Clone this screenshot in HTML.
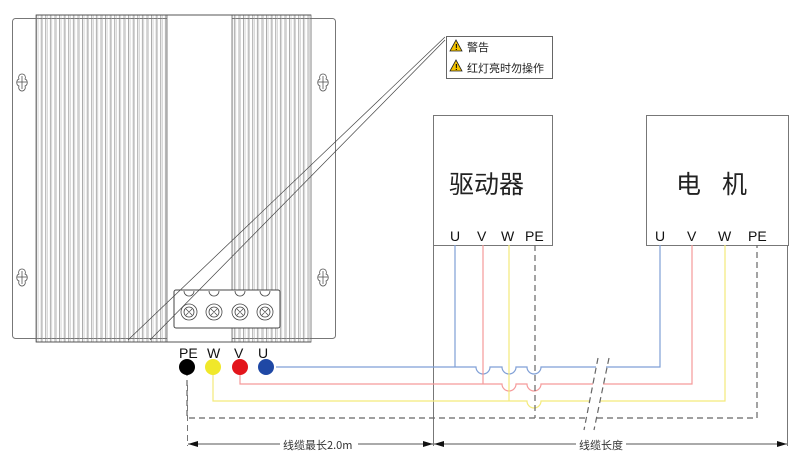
<!DOCTYPE html>
<html><head><meta charset="utf-8"><style>
html,body{margin:0;padding:0;background:#fff;}
svg{display:block;}
text{font-family:"Liberation Sans","Noto Sans CJK SC",sans-serif;}
.cj{font-family:"Noto Sans CJK SC","WenQuanYi Zen Hei",sans-serif;}
</style></head><body>
<svg width="800" height="464" viewBox="0 0 800 464" xmlns="http://www.w3.org/2000/svg">
<defs>
<pattern id="fin" x="36" y="0" width="4.6" height="10" patternUnits="userSpaceOnUse">
<line x1="0.6" y1="0" x2="0.6" y2="10" stroke="#777" stroke-width="0.6"/>
<line x1="2.0" y1="0" x2="2.0" y2="10" stroke="#aaa" stroke-width="0.5"/>
</pattern>
<marker id="ar" viewBox="0 0 10 6" refX="10" refY="3" markerWidth="10" markerHeight="6" orient="auto-start-reverse" markerUnits="userSpaceOnUse"><path d="M0,0 L10,3 L0,6 z" fill="#111"/></marker>
</defs>
<rect x="12.5" y="18.5" width="323" height="320" rx="3" fill="#fff" stroke="#777"/>
<rect x="36" y="15" width="131" height="327" fill="url(#fin)" stroke="#666" stroke-width="0.8"/>
<rect x="232" y="15" width="79" height="327" fill="url(#fin)" stroke="#666" stroke-width="0.8"/>
<rect x="167" y="15" width="65" height="327" fill="#fff" stroke="#666" stroke-width="0.8"/>
<line x1="36" y1="15" x2="311" y2="15" stroke="#555"/>
<line x1="36" y1="342" x2="311" y2="342" stroke="#555"/>
<g fill="none" stroke="#555" stroke-width="0.8">
<path d="M22,74 c-3,0 -4,3 -3,5 c-3,1 -3,6 0,7 c-1,3 1,5 3,5 c2,0 4,-2 3,-5 c3,-1 3,-6 0,-7 c1,-2 0,-5 -3,-5z"/><line x1="17" y1="82" x2="27" y2="82"/><line x1="22" y1="76" x2="22" y2="89"/>
<path d="M22,269 c-3,0 -4,3 -3,5 c-3,1 -3,6 0,7 c-1,3 1,5 3,5 c2,0 4,-2 3,-5 c3,-1 3,-6 0,-7 c1,-2 0,-5 -3,-5z"/><line x1="17" y1="277" x2="27" y2="277"/><line x1="22" y1="271" x2="22" y2="284"/>
<path d="M323,74 c-3,0 -4,3 -3,5 c-3,1 -3,6 0,7 c-1,3 1,5 3,5 c2,0 4,-2 3,-5 c3,-1 3,-6 0,-7 c1,-2 0,-5 -3,-5z"/><line x1="318" y1="82" x2="328" y2="82"/><line x1="323" y1="76" x2="323" y2="89"/>
<path d="M323,269 c-3,0 -4,3 -3,5 c-3,1 -3,6 0,7 c-1,3 1,5 3,5 c2,0 4,-2 3,-5 c3,-1 3,-6 0,-7 c1,-2 0,-5 -3,-5z"/><line x1="318" y1="277" x2="328" y2="277"/><line x1="323" y1="271" x2="323" y2="284"/>
</g>
<rect x="174" y="290" width="106" height="38" rx="2" fill="#fff" stroke="#444"/>
<g fill="#fff" stroke="#444" stroke-width="0.8">
<circle cx="189" cy="312" r="8"/><circle cx="189" cy="312" r="5"/>
<circle cx="214" cy="312" r="8"/><circle cx="214" cy="312" r="5"/>
<circle cx="240" cy="312" r="8"/><circle cx="240" cy="312" r="5"/>
<circle cx="265" cy="312" r="8"/><circle cx="265" cy="312" r="5"/>
<path d="M184,291 a5,5 0 0 0 10,0"/><path d="M209,291 a5,5 0 0 0 10,0"/><path d="M235,291 a5,5 0 0 0 10,0"/><path d="M260,291 a5,5 0 0 0 10,0"/>
</g>
<g stroke="#444" stroke-width="0.7">
<path d="M186,309 l6,6 M192,309 l-6,6 M211,309 l6,6 M217,309 l-6,6 M237,309 l6,6 M243,309 l-6,6 M262,309 l6,6 M268,309 l-6,6"/>
</g>
<line x1="445" y1="37" x2="128" y2="340" stroke="#444" stroke-width="0.7"/>
<line x1="445" y1="40" x2="150" y2="340" stroke="#444" stroke-width="0.7"/>
<rect x="446.5" y="36.5" width="106" height="42" fill="#fff" stroke="#666"/>
<g stroke="#222" stroke-width="0.8" fill="#f5c400">
<path d="M456,40 l6,11 h-12z"/><path d="M456,60 l6,11 h-12z"/>
</g>
<text x="455" y="50" font-size="8" font-weight="bold" fill="#000">!</text>
<text x="455" y="70" font-size="8" font-weight="bold" fill="#000">!</text>
<text x="467" y="51" font-size="11" class="cj" fill="#222">警告</text>
<text x="467" y="72" font-size="11" class="cj" fill="#222">红灯亮时勿操作</text>
<rect x="433.5" y="115.5" width="119" height="130" fill="#fff" stroke="#777"/>
<line x1="433.5" y1="245" x2="433.5" y2="446" stroke="#777"/>
<rect x="646.5" y="115.5" width="142" height="130" fill="#fff" stroke="#777"/>
<line x1="787.5" y1="245" x2="787.5" y2="446" stroke="#777"/>
<text x="449" y="193" font-size="25" class="cj" fill="#222">驱动器</text>
<text x="676" y="193" font-size="25" class="cj" fill="#222">电</text>
<text x="722" y="193" font-size="25" class="cj" fill="#222">机</text>
<g font-size="14" fill="#111">
<text x="450" y="241">U</text><text x="477" y="241">V</text><text x="501" y="241">W</text><text x="525" y="241">PE</text>
<text x="655" y="241">U</text><text x="687" y="241">V</text><text x="718" y="241">W</text><text x="748" y="241">PE</text>
<text x="179" y="358">PE</text><text x="207" y="358">W</text><text x="234" y="358">V</text><text x="258" y="358">U</text>
</g>
<g fill="none" stroke-width="1.2">
<path d="M276,367 H455 V245 M455,367 H476 a7,7 0 0 0 14,0 H502 a7,7 0 0 0 14,0 H527 a7,7 0 0 0 14,0 H596 M606,367 H660 V245" stroke="#7f9fd6"/>
<path d="M240,370 V384 H483 V245 M483,384 H502 a7,7 0 0 0 14,0 H527 a7,7 0 0 0 14,0 H593 M603,384 H692 V245" stroke="#f59a9a"/>
<path d="M213,370 V401 H509 V245 M509,401 H527 a7,7 0 0 0 14,0 H590 M600,401 H725 V245" stroke="#f3ea7a"/>
</g>
<g fill="none" stroke="#666" stroke-width="1.2" stroke-dasharray="6,4">
<path d="M187,370 V418 H587 M597,418 H757 V245"/>
<path d="M535,245 V418"/>
<path d="M598,358 L584,430 M609,358 L594,430"/>
</g>
<circle cx="187" cy="367" r="8" fill="#000"/>
<circle cx="213" cy="367" r="8" fill="#f0e82a"/>
<circle cx="240" cy="367" r="8" fill="#e3151b"/>
<circle cx="266" cy="367" r="8" fill="#1f48a5"/>
<line x1="187.5" y1="385" x2="187.5" y2="446" stroke="#777" stroke-dasharray="6,4"/>
<line x1="188" y1="444" x2="433" y2="444" stroke="#555" marker-start="url(#ar)" marker-end="url(#ar)"/>
<line x1="434" y1="444" x2="787" y2="444" stroke="#555" marker-start="url(#ar)" marker-end="url(#ar)"/>
<rect x="280" y="436" width="78" height="16" fill="#fff"/>
<text x="283" y="449" font-size="11" class="cj" fill="#333">线缆最长2.0m</text>
<rect x="576" y="436" width="50" height="16" fill="#fff"/>
<text x="579" y="449" font-size="11" class="cj" fill="#333">线缆长度</text>
</svg>
</body></html>
